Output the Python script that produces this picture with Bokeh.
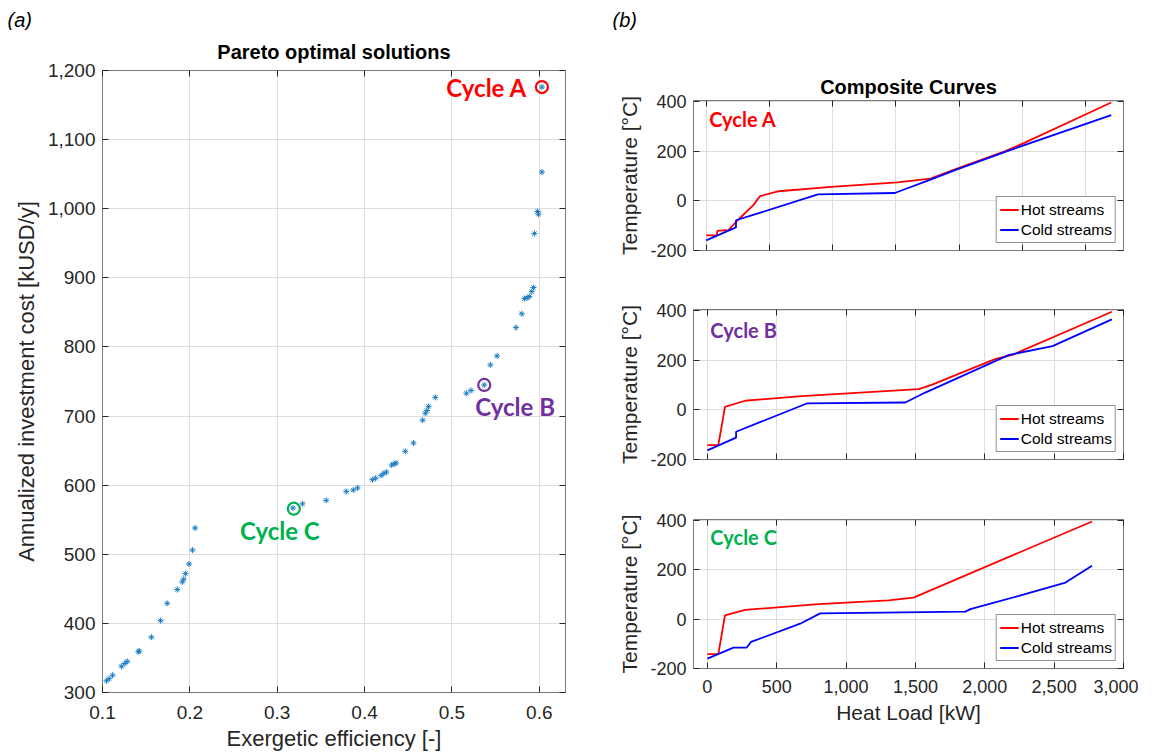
from bokeh.plotting import figure
from bokeh.layouts import column, row
from bokeh.models import (Range1d, FixedTicker, NumeralTickFormatter, CustomJSTickFormatter,
                          LinearAxis, Legend, LegendItem)
from bokeh.core.properties import value
from bokeh.embed import file_html
from bokeh.resources import INLINE

# ---------------- data: panel (a) ----------------
eff = [0.1046, 0.1076, 0.1115, 0.1218, 0.1256, 0.1283, 0.141, 0.142, 0.156, 0.1665,
       0.174, 0.1856, 0.1913, 0.193, 0.195, 0.199, 0.203, 0.206, 0.318, 0.329,
       0.356, 0.379, 0.387, 0.392, 0.409, 0.4126, 0.419, 0.422, 0.425, 0.431,
       0.434, 0.436, 0.4466, 0.456, 0.4665, 0.4695, 0.4714, 0.4733, 0.481, 0.5165,
       0.5219, 0.537, 0.544, 0.5517, 0.5734, 0.580, 0.583, 0.586, 0.5887, 0.5914,
       0.5933, 0.5944, 0.598, 0.599, 0.603, 0.603]
cost = [317, 320, 325, 338, 342, 345, 359, 360, 380, 404,
        429, 449, 460, 464, 472, 486, 506, 538, 567, 573,
        578, 591, 593, 596, 608, 610, 614, 617, 619, 629,
        631, 632, 649, 661, 694, 704, 708, 714, 727, 733,
        737, 745, 774, 787, 828, 848, 870, 871, 873, 880,
        886, 964, 996, 992, 1053, 1176]

cycle_names = ["Cycle A", "Cycle B", "Cycle C"]
cycle_eff = [0.603, 0.537, 0.319]
cycle_cost = [1176, 745, 566]
cycle_colors = ["#FF0000", "#7030A0", "#00B050"]

x_ticks_a = [0.1, 0.2, 0.3, 0.4, 0.5, 0.6]
y_ticks_a = [300, 400, 500, 600, 700, 800, 900, 1000, 1100, 1200]

# ---------------- data: panel (b) ----------------
hot_A_q = [0, 84, 89, 176, 241, 373, 425, 574, 988, 1512, 1774, 2010, 2350, 2507, 3203]
hot_A_t = [-139, -139, -121, -118, -82, -17, 19, 39, 57, 75, 90, 135, 198, 232, 397]
cold_A_q = [0, 236, 236, 884, 1491, 1774, 1984, 2403, 3203]
cold_A_t = [-159, -107, -78, 26, 32, 86, 127, 205, 346]

hot_B_q = [0, 79, 127, 272, 681, 1524, 1621, 2078, 2199, 2916]
hot_B_t = [-142, -142, 12, 37, 56, 84, 102, 206, 222, 396]
cold_B_q = [0, 207, 207, 717, 1427, 1571, 2175, 2488, 2916]
cold_B_t = [-163, -112, -88, 26, 30, 70, 222, 257, 365]

hot_C_q = [0, 79, 127, 272, 801, 1306, 1486, 2773]
hot_C_t = [-142, -142, 16, 38, 61, 77, 88, 397]
cold_C_q = [0, 188, 284, 315, 669, 813, 1860, 1896, 2246, 2582, 2773]
cold_C_t = [-160, -115, -115, -92, -18, 24, 31, 41, 95, 149, 217]

x_ticks_b = [0, 500, 1000, 1500, 2000, 2500, 3000]
y_ticks_b = [-200, 0, 200, 400]
x_max_b = [3300, 3000, 3000]
panel_labels = ["(a)", "(b)"]

FONT = "Liberation Sans"
TXT = "#262626"
GRID = "#dedede"
FRAME = "#7a7a7a"
HOT = "#FF0000"
COLD = "#0000FF"

blank = CustomJSTickFormatter(code="return ''")


def style_axes(p, xticks, yticks, tick_fs, label_fs, xstand, xlstand, ystand, ylstand,
               show_xlabels=True, xfmt=None, yfmt=None):
    p.outline_line_color = FRAME
    p.outline_line_width = 1
    for ax in p.xaxis + p.yaxis:
        ax.axis_line_color = None
        ax.major_tick_in = 6
        ax.major_tick_out = 0
        ax.minor_tick_line_color = None
        ax.major_tick_line_color = TXT
        ax.major_label_text_font = FONT
        ax.major_label_text_font_size = tick_fs
        ax.major_label_text_color = TXT
        ax.axis_label_text_font = FONT
        ax.axis_label_text_font_size = label_fs
        ax.axis_label_text_font_style = "normal"
        ax.axis_label_text_color = TXT
    p.xaxis.major_label_standoff = xstand
    p.xaxis.axis_label_standoff = xlstand
    p.yaxis.major_label_standoff = ystand
    p.yaxis.axis_label_standoff = ylstand
    p.xaxis.ticker = FixedTicker(ticks=xticks)
    p.yaxis.ticker = FixedTicker(ticks=yticks)
    if xfmt is not None:
        p.xaxis.formatter = xfmt
    if yfmt is not None:
        p.yaxis.formatter = yfmt
    if not show_xlabels:
        p.xaxis.formatter = blank
    p.xgrid.ticker = FixedTicker(ticks=xticks)
    p.ygrid.ticker = FixedTicker(ticks=yticks)
    p.grid.grid_line_color = GRID
    p.grid.grid_line_width = 1
    # mirrored inward ticks on top / right
    top = LinearAxis(ticker=FixedTicker(ticks=xticks), formatter=blank, axis_line_color=None,
                     major_tick_in=6, major_tick_out=0, minor_tick_line_color=None,
                     major_tick_line_color=TXT, major_label_standoff=0)
    right = LinearAxis(ticker=FixedTicker(ticks=yticks), formatter=blank, axis_line_color=None,
                       major_tick_in=6, major_tick_out=0, minor_tick_line_color=None,
                       major_tick_line_color=TXT, major_label_standoff=0)
    p.add_layout(top, "above")
    p.add_layout(right, "right")


# ---------------- header with panel letters ----------------
hdr = figure(width=1138, height=30, x_range=Range1d(0, 1138), y_range=Range1d(0, 30),
             x_axis_type=None, y_axis_type=None, toolbar_location=None,
             output_backend="svg", min_border=0)
hdr.outline_line_color = None
hdr.grid.visible = False
hdr.text(x=[7, 612], y=[11, 11], text=panel_labels, text_font=value(FONT),
         text_font_style="italic", text_font_size="20px", text_baseline="middle",
         text_align="left", text_color="#000000")

# ---------------- panel (a) ----------------
pa = figure(frame_width=463, frame_height=622, min_border_left=102, min_border_right=35,
            min_border_top=40, min_border_bottom=62,
            x_range=Range1d(0.1, 0.63), y_range=Range1d(300, 1200),
            toolbar_location=None, output_backend="svg")
pa.title.text = "Pareto optimal solutions"
pa.title.align = "center"
pa.title.text_font = FONT
pa.title.text_font_size = "20px"
pa.title.text_font_style = "bold"
pa.title.text_color = "#000000"
pa.title.standoff = 15
pa.xaxis.axis_label = "Exergetic efficiency [-]"
pa.yaxis.axis_label = "Annualized investment cost [kUSD/y]"
style_axes(pa, x_ticks_a, y_ticks_a, "19px", "22px", 13, 4, 7, 6,
           xfmt=NumeralTickFormatter(format="0.0"), yfmt=NumeralTickFormatter(format="0,0"))

pa.scatter(x=eff, y=cost, marker="asterisk", size=6, line_color="#1f7fc4", line_width=1)
pa.scatter(x=cycle_eff, y=cycle_cost, marker="circle", size=12, fill_color=None,
           line_color=cycle_colors, line_width=2.2)
offs = [(-15, 0, "right"), (-9, 22, "left"), (-14, 22, "center")]
for i in range(3):
    dx, dy, al = offs[i]
    pa.text(x=[cycle_eff[i]], y=[cycle_cost[i]], text=[cycle_names[i]], x_offset=dx, y_offset=dy,
            text_align=al, text_baseline="middle", text_color=cycle_colors[i],
            text_font=value("Lato"), text_font_style="bold", text_font_size="24px")

# ---------------- panel (b) ----------------
hots = [(hot_A_q, hot_A_t), (hot_B_q, hot_B_t), (hot_C_q, hot_C_t)]
colds = [(cold_A_q, cold_A_t), (cold_B_q, cold_B_t), (cold_C_q, cold_C_t)]
tops = [70, 30, 30]
bots = [29, 30, 86]
fhs = [150, 150, 149]
label_q = 0
label_t = 400
label_dy = [17, 19, 16]
figs_b = []
for k in range(3):
    pb = figure(frame_width=430, frame_height=fhs[k], min_border_left=93, min_border_right=15,
                min_border_top=tops[k], min_border_bottom=bots[k],
                x_range=Range1d(-100, x_max_b[k]), y_range=Range1d(-200, 405),
                toolbar_location=None, output_backend="svg")
    if k == 0:
        pb.title.text = "Composite Curves"
        pb.title.align = "center"
        pb.title.text_font = FONT
        pb.title.text_font_size = "20px"
        pb.title.text_font_style = "bold"
        pb.title.text_color = "#000000"
        pb.title.standoff = 5
    pb.yaxis.axis_label = "Temperature [°C]"
    if k == 2:
        pb.xaxis.axis_label = "Heat Load [kW]"
    style_axes(pb, x_ticks_b, y_ticks_b, "18px", "21px", 11, 5, 7, 6, show_xlabels=(k == 2),
               xfmt=NumeralTickFormatter(format="0,0"), yfmt=NumeralTickFormatter(format="0"))

    rh = pb.line(x=hots[k][0], y=hots[k][1], line_color=HOT, line_width=1.8)
    rc = pb.line(x=colds[k][0], y=colds[k][1], line_color=COLD, line_width=1.8)
    pb.text(x=[label_q], y=[label_t], text=[cycle_names[k]], x_offset=3, y_offset=label_dy[k],
            text_align="left", text_baseline="middle", text_color=cycle_colors[k],
            text_font=value("Lato"), text_font_style="bold", text_font_size="20px")
    leg = Legend(items=[LegendItem(label="Hot streams", renderers=[rh]),
                        LegendItem(label="Cold streams", renderers=[rc])],
                 location="bottom_right", margin=7, padding=3, spacing=1,
                 label_height=19, glyph_height=19, glyph_width=19, label_standoff=2,
                 label_text_font=FONT, label_text_font_size="15.5px", label_text_color="#000000",
                 border_line_color=TXT, border_line_width=1, background_fill_color="white",
                 background_fill_alpha=1.0)
    pb.add_layout(leg, "center")
    figs_b.append(pb)

layout = column(hdr, row(pa, column(*figs_b)))
open("out.html", "w").write(file_html(layout, INLINE))
